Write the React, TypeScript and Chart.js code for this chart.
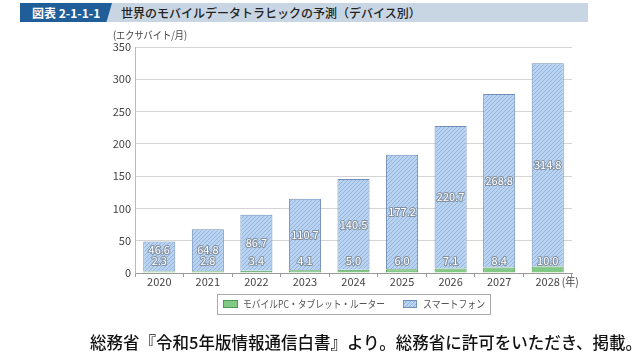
import React, { useEffect, useRef } from "react";
import { Chart, registerables } from "chart.js";

Chart.register(...registerables);

const years = ["2020", "2021", "2022", "2023", "2024", "2025", "2026", "2027", "2028"];
const mobilePC = [2.3, 2.8, 3.4, 4.1, 5.0, 6.0, 7.1, 8.4, 10.0];
const smartphone = [46.6, 64.8, 86.7, 110.7, 140.5, 177.2, 220.7, 268.8, 314.8];
const seriesNames = ["モバイルPC・タブレット・ルーター", "スマートフォン"];
const yMin = 0;
const yMax = 350;
const yStep = 50;
const yUnit = "(エクサバイト/月)";
const xUnit = "(年)";
const figNo = "図表 2-1-1-1";
const titleText = "世界のモバイルデータトラヒックの予測（デバイス別）";
const footerText = "総務省『令和5年版情報通信白書』より。総務省に許可をいただき、掲載。";

const FONT = '"Noto Sans CJK JP", "Noto Sans", sans-serif';
const GREEN = "#82c985";
const GREEN_BORDER = "#4f9a56";
const BLUE_BASE = "#b9d3f1";
const BLUE_STRIPE = "#8db1de";
const BLUE_BORDER = "#6f8fb8";

function makeHatch(): CanvasPattern | string {
  const c = document.createElement("canvas");
  c.width = 4;
  c.height = 4;
  const g = c.getContext("2d");
  if (!g) return BLUE_BASE;
  g.fillStyle = BLUE_BASE;
  g.fillRect(0, 0, 4, 4);
  g.strokeStyle = BLUE_STRIPE;
  g.lineWidth = 0.9;
  g.beginPath();
  g.moveTo(0, 4);
  g.lineTo(4, 0);
  g.moveTo(-1, 1);
  g.lineTo(1, -1);
  g.moveTo(3, 5);
  g.lineTo(5, 3);
  g.stroke();
  const p = g.createPattern(c, "repeat");
  return p || BLUE_BASE;
}

export default function App() {
  const ref = useRef<HTMLCanvasElement | null>(null);

  useEffect(() => {
    const canvas = ref.current;
    if (!canvas) return;
    const hatch = makeHatch();

    const overlay = {
      id: "overlay",
      afterDatasetsDraw(chart: any) {
        const ctx = chart.ctx;
        const ys = chart.scales.y;
        const m1 = chart.getDatasetMeta(1);
        ctx.save();
        ctx.font = `11px ${FONT}`;
        ctx.textAlign = "center";
        ctx.textBaseline = "middle";
        ctx.lineJoin = "round";
        const base = ys.getPixelForValue(0);
        for (let i = 0; i < years.length; i++) {
          const x = m1.data[i].x;
          const gy = base - 12;
          const center = (ys.getPixelForValue(mobilePC[i]) + ys.getPixelForValue(mobilePC[i] + smartphone[i])) / 2;
          const by = Math.min(center, gy - 11);
          const items: [string, number][] = [
            [mobilePC[i].toFixed(1), gy],
            [smartphone[i].toFixed(1), by],
          ];
          for (const [t, y] of items) {
            ctx.strokeStyle = "#8290a0";
            ctx.lineWidth = 2;
            ctx.strokeText(t, x, y);
            ctx.fillStyle = "#ffffff";
            ctx.fillText(t, x, y);
          }
        }
        ctx.restore();
      },
      afterDraw(chart: any) {
        const ctx = chart.ctx;
        const xs = chart.scales.x;
        ctx.save();
        ctx.fillStyle = "#444";
        ctx.textBaseline = "middle";
        ctx.textAlign = "left";
        ctx.font = `10.5px ${FONT}`;
        ctx.fillText(yUnit, 113, 35, 74);
        ctx.font = `11px ${FONT}`;
        ctx.fillText(xUnit, xs.getPixelForValue(years.length - 1) + 14, 282, 17);

        // legend
        ctx.strokeStyle = "#aaaaaa";
        ctx.lineWidth = 1;
        ctx.strokeRect(217.5, 294.5, 273, 20);
        ctx.fillStyle = GREEN;
        ctx.fillRect(223, 300, 15, 8);
        ctx.strokeStyle = GREEN_BORDER;
        ctx.strokeRect(223.5, 300.5, 14, 7);
        ctx.fillStyle = hatch as any;
        ctx.fillRect(403, 300, 14, 8);
        ctx.strokeStyle = BLUE_BORDER;
        ctx.strokeRect(403.5, 300.5, 13, 7);
        ctx.fillStyle = "#555";
        ctx.font = `10.5px ${FONT}`;
        ctx.fillText(seriesNames[0], 243, 304.5, 142);
        ctx.fillText(seriesNames[1], 423, 304.5, 62);
        ctx.restore();
      },
    };

    const chart = new Chart(canvas, {
      type: "bar",
      data: {
        labels: years,
        datasets: [
          {
            label: seriesNames[0],
            data: mobilePC,
            backgroundColor: GREEN,
            borderColor: GREEN_BORDER,
            borderWidth: 1,
            barPercentage: 0.66,
            categoryPercentage: 1,
          },
          {
            label: seriesNames[1],
            data: smartphone,
            backgroundColor: hatch as any,
            borderColor: BLUE_BORDER,
            borderWidth: 1,
            barPercentage: 0.66,
            categoryPercentage: 1,
          },
        ],
      },
      options: {
        responsive: false,
        animation: false,
        events: [],
        layout: { padding: { left: 0, right: 68, top: 47, bottom: 0 } },
        plugins: {
          legend: { display: false },
          title: { display: false },
          tooltip: { enabled: false },
        },
        scales: {
          x: {
            stacked: true,
            offset: true,
            grid: {
              display: true,
              offset: true,
              drawOnChartArea: false,
              drawTicks: true,
              tickLength: 4,
              color: "#999",
            },
            border: { display: true, color: "#999" },
            ticks: {
              color: "#444",
              font: { family: FONT, size: 11 },
              padding: -2,
              maxRotation: 0,
            },
            afterFit(scale: any) {
              scale.height = 87;
            },
          },
          y: {
            stacked: true,
            min: yMin,
            max: yMax,
            ticks: {
              stepSize: yStep,
              color: "#444",
              font: { family: FONT, size: 11 },
              padding: 4,
            },
            grid: { color: "#d4d4d4", drawTicks: false },
            border: { display: true, color: "#bbbbbb" },
            afterFit(scale: any) {
              scale.width = 135;
            },
          },
        },
      },
      plugins: [overlay],
    });
    return () => chart.destroy();
  }, []);

  return (
    <div style={{ position: "fixed", left: 0, top: 0, width: 640, height: 360, background: "#fff", overflow: "hidden", fontFamily: FONT }}>
      <canvas ref={ref} width={640} height={360} style={{ position: "absolute", left: 0, top: 0, width: 640, height: 360 }} />
      <div style={{ position: "absolute", left: 20, top: 3, width: 568, height: 19, background: "#c8d5e3" }} />
      <div
        style={{
          position: "absolute",
          left: 20,
          top: 3,
          width: 92,
          height: 19,
          background: "#1f5e98",
          clipPath: "polygon(0 0, 100% 0, 94% 100%, 0 100%)",
          color: "#fff",
          fontWeight: 700,
          fontSize: 12,
          lineHeight: "19px",
          paddingLeft: 12,
          boxSizing: "border-box",
          whiteSpace: "nowrap",
        }}
      >
        {figNo}
      </div>
      <div style={{ position: "absolute", left: 121, top: 3, height: 19, lineHeight: "19px", fontSize: 12, color: "#222", fontWeight: 500, whiteSpace: "nowrap" }}>
        {titleText}
      </div>
      <div style={{ position: "absolute", left: 90, top: 332, fontSize: 16.5, lineHeight: "20px", color: "#111", fontWeight: 500, whiteSpace: "nowrap" }}>
        {footerText}
      </div>
    </div>
  );
}
